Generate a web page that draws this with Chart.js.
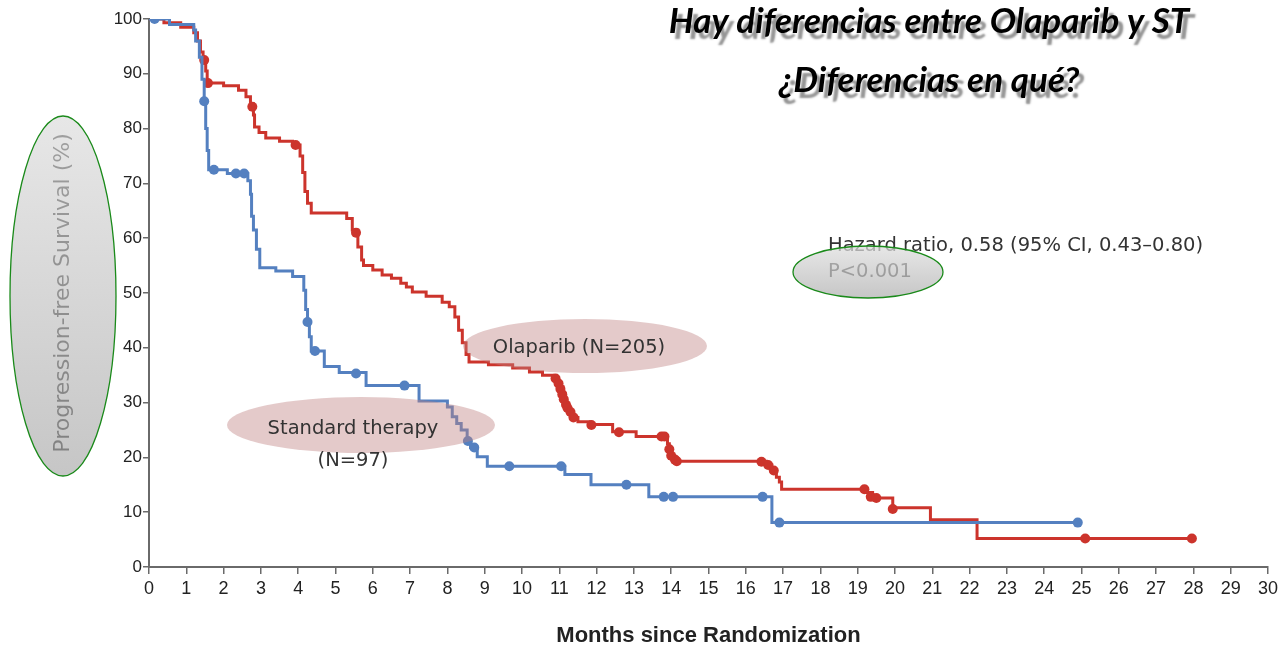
<!DOCTYPE html>
<html>
<head>
<meta charset="utf-8">
<script src="https://cdn.jsdelivr.net/npm/chart.js@4.4.1/dist/chart.umd.min.js"></script>
<style>
  html, body { margin: 0; padding: 0; background: #fff; }
  #wrap { width: 1282px; height: 646px; position: relative; }
</style>
</head>
<body>
<div id="wrap"><canvas id="km"></canvas></div>
<script>
// Kaplan-Meier steps: time (months) and survival (%) after each drop
const standardTimes = [0, 0.55, 1.2, 1.25, 1.35, 1.42, 1.48, 1.52, 1.56, 1.6, 2.1, 2.65, 2.72, 2.75, 2.8, 2.88, 2.97, 3.4, 3.85, 4.15, 4.2, 4.25, 4.3, 4.35, 4.7, 5.1, 5.82, 7.24, 8.0, 8.13, 8.25, 8.37, 8.53, 8.62, 8.8, 9.07, 11.15, 11.85, 13.4, 16.7, 24.9];
const standardSurv  = [100, 99, 98, 96, 93, 89, 85, 80, 76, 72.5, 71.8, 70.5, 68, 64, 61.5, 58, 54.6, 54, 53, 50.5, 47, 44.7, 42, 39.4, 36.6, 35.5, 33.1, 30.3, 29.2, 27.4, 26.2, 25, 22.8, 21.8, 20.1, 18.4, 16.9, 15, 12.8, 8.1, 8.1];
const standardCensorTimes = [0.15, 1.48, 1.74, 2.33, 2.55, 4.25, 4.45, 5.55, 6.85, 8.55, 8.72, 9.66, 11.05, 12.8, 13.8, 14.05, 16.45, 16.9, 24.9];
const standardCensorSurv  = [100, 85, 72.5, 71.8, 71.8, 44.7, 39.4, 35.3, 33.1, 23, 21.8, 18.4, 18.4, 15, 12.8, 12.8, 12.8, 8.1, 8.1];

const olaparibTimes = [0, 0.4, 0.85, 1.2, 1.3, 1.38, 1.45, 1.52, 1.56, 2.0, 2.4, 2.6, 2.72, 2.8, 2.83, 2.95, 3.13, 3.5, 3.85, 4.05, 4.12, 4.18, 4.25, 4.35, 5.3, 5.45, 5.6, 5.7, 5.75, 6.0, 6.25, 6.5, 6.75, 6.9, 7.06, 7.43, 7.86, 8.05, 8.2, 8.3, 8.4, 8.5, 8.58, 9.1, 9.75, 10.2, 10.55, 10.83, 10.95, 11.0, 11.05, 11.1, 11.15, 11.25, 11.35, 11.5, 11.8, 12.43, 13.06, 13.9, 13.95, 14.0, 14.05, 16.55, 16.7, 16.82, 16.9, 16.96, 19.23, 19.4, 19.94, 20.95, 22.2, 27.96];
const olaparibSurv  = [100, 99.3, 98.5, 97.5, 96, 94, 92.5, 90.5, 88.3, 87.8, 87, 85.8, 84.5, 82.5, 80.3, 79.3, 78.3, 77.7, 77, 75, 72, 68.5, 66.4, 64.6, 63.6, 61.5, 58.4, 56, 55, 54.2, 53.3, 52.7, 51.8, 51.1, 50.2, 49.4, 48.3, 47.5, 45.6, 43.2, 40.9, 38.8, 37.4, 36.9, 36.3, 35.6, 35, 34.5, 33.5, 32.5, 31.5, 30.5, 29.5, 28.5, 27.3, 26.5, 26, 24.7, 23.8, 22.5, 21, 20, 19.3, 18.6, 17.8, 16.4, 15.5, 14.2, 13.6, 12.6, 10.8, 8.6, 5.2, 5.2];
const olaparibCensorTimes = [1.48, 1.58, 2.77, 3.93, 5.55, 10.9, 10.98, 11.03, 11.08, 11.12, 11.18, 11.22, 11.3, 11.38, 11.86, 12.6, 13.74, 13.82, 13.95, 14.0, 14.1, 14.15, 16.42, 16.6, 16.75, 19.18, 19.35, 19.5, 19.94, 25.1, 27.96];
const olaparibCensorSurv  = [92.5, 88.3, 84, 77, 61, 34.4, 33.5, 32.5, 31.5, 30.6, 29.6, 29, 28.3, 27.3, 25.9, 24.6, 23.8, 23.8, 21.5, 20.3, 19.6, 19.3, 19.2, 18.6, 17.6, 14.2, 12.8, 12.6, 10.6, 5.2, 5.2];

const monthTicks = [0, 1, 2, 3, 4, 5, 6, 7, 8, 9, 10, 11, 12, 13, 14, 15, 16, 17, 18, 19, 20, 21, 22, 23, 24, 25, 26, 27, 28, 29, 30];
const survivalTicks = [0, 10, 20, 30, 40, 50, 60, 70, 80, 90, 100];

const titleLines = ['Hay diferencias entre Olaparib y ST', '¿Diferencias en qué?'];
const hazardText = 'Hazard ratio, 0.58 (95% CI, 0.43\u20130.80)';
const pText = 'P<0.001';
const olaparibLabel = 'Olaparib (N=205)';
const standardLabel = ['Standard therapy', '(N=97)'];
const xTitle = 'Months since Randomization';
const yTitle = 'Progression-free Survival (%)';

const RED = 'rgb(204,52,44)';
const BLUE = 'rgb(84,128,192)';
const AXIS = '#6a6a6a';
const TEXT_FONT = '"DejaVu Sans", sans-serif';

function pts(xs, ys) {
    return xs.map((x, i) => ({ x: x, y: ys[i] }));
}

function ellipsePath(ctx, cx, cy, rx, ry) {
    ctx.beginPath();
    ctx.ellipse(cx, cy, rx, ry, 0, 0, Math.PI * 2);
}

// grey highlight bubble with a green outline, drawn over whatever is below
function greyBubble(ctx, cx, cy, rx, ry) {
    const g = ctx.createLinearGradient(0, cy - ry, 0, cy + ry);
    g.addColorStop(0, 'rgba(222,222,222,0.72)');
    g.addColorStop(1, 'rgba(176,176,176,0.72)');
    ellipsePath(ctx, cx, cy, rx, ry);
    ctx.fillStyle = g;
    ctx.fill();
    ctx.lineWidth = 1.3;
    ctx.strokeStyle = '#1a8a1a';
    ctx.stroke();
}

const overlay = {
    id: 'overlay',
    afterDatasetsDraw(chart) {
        const ctx = chart.ctx;
        ctx.save();
        // pink label bubbles sit over the curves
        ctx.fillStyle = 'rgba(190,128,128,0.42)';
        ellipsePath(ctx, 585, 346, 122, 27);
        ctx.fill();
        ellipsePath(ctx, 361, 425, 134, 28);
        ctx.fill();

        ctx.fillStyle = '#333';
        ctx.font = '19.5px ' + TEXT_FONT;
        ctx.textAlign = 'center';
        ctx.textBaseline = 'middle';
        ctx.fillText(olaparibLabel, 579, 348);
        ctx.fillText(standardLabel[0], 353, 429);
        ctx.fillText(standardLabel[1], 353, 461);

        ctx.textAlign = 'left';
        ctx.fillText(hazardText, 828, 246);
        ctx.fillText(pText, 828, 272);
        ctx.restore();
    },
    afterDraw(chart) {
        const ctx = chart.ctx;
        ctx.save();
        greyBubble(ctx, 63, 296, 53, 180);
        greyBubble(ctx, 868, 272, 75, 26);

        // slide title with drop shadow
        ctx.font = 'italic bold 35px Lato, "Open Sans", sans-serif';
        ctx.textAlign = 'center';
        ctx.textBaseline = 'alphabetic';
        ctx.fillStyle = '#000';
        ctx.shadowColor = 'rgba(0,0,0,0.42)';
        ctx.shadowOffsetX = 5;
        ctx.shadowOffsetY = 6;
        ctx.shadowBlur = 2;
        ctx.fillText(titleLines[0], 929, 33);
        ctx.fillText(titleLines[1], 929, 92);
        ctx.restore();
    }
};

new Chart(document.getElementById('km'), {
    type: 'line',
    data: {
        datasets: [
            {
                label: 'Standard therapy',
                data: pts(standardTimes, standardSurv),
                borderColor: BLUE,
                borderWidth: 3,
                stepped: 'before',
                pointRadius: 0,
                fill: false
            },
            {
                type: 'scatter',
                label: 'Standard therapy censored',
                data: pts(standardCensorTimes, standardCensorSurv),
                backgroundColor: BLUE,
                borderWidth: 0,
                pointRadius: 5,
                showLine: false
            },
            {
                label: 'Olaparib',
                data: pts(olaparibTimes, olaparibSurv),
                borderColor: RED,
                borderWidth: 3,
                stepped: 'before',
                pointRadius: 0,
                fill: false
            },
            {
                type: 'scatter',
                label: 'Olaparib censored',
                data: pts(olaparibCensorTimes, olaparibCensorSurv),
                backgroundColor: RED,
                borderWidth: 0,
                pointRadius: 5,
                showLine: false
            }
        ]
    },
    options: {
        responsive: true,
        maintainAspectRatio: false,
        animation: false,
        devicePixelRatio: 1,
        layout: { padding: { top: 19, right: 14, bottom: 0, left: 0 } },
        plugins: {
            legend: { display: false },
            tooltip: { enabled: false }
        },
        scales: {
            x: {
                type: 'linear',
                min: 0,
                max: 30,
                afterBuildTicks: s => { s.ticks = monthTicks.map(v => ({ value: v })); },
                afterFit: s => { s.height = 79; },
                ticks: {
                    autoSkip: false,
                    maxRotation: 0,
                    padding: 4,
                    color: '#222',
                    font: { family: '"Liberation Sans Narrow", "Liberation Sans", sans-serif', size: 18 }
                },
                grid: { drawOnChartArea: false, drawTicks: true, tickLength: 7, color: AXIS, lineWidth: 1.5 },
                border: { display: true, color: AXIS, width: 2 },
                title: {
                    display: true,
                    text: xTitle,
                    color: '#222',
                    padding: { top: 0, bottom: -3 },
                    font: { family: '"Liberation Sans Narrow", "Liberation Sans", sans-serif', size: 22, weight: 'bold' }
                }
            },
            y: {
                min: 0,
                max: 100,
                afterBuildTicks: s => { s.ticks = survivalTicks.map(v => ({ value: v })); },
                afterFit: s => { s.width = 149; },
                ticks: {
                    padding: 1,
                    color: '#222',
                    font: { family: '"Liberation Sans Narrow", "Liberation Sans", sans-serif', size: 17 }
                },
                grid: { drawOnChartArea: false, drawTicks: true, tickLength: 6, color: AXIS, lineWidth: 1.5 },
                border: { display: true, color: AXIS, width: 2 },
                title: {
                    display: true,
                    text: yTitle,
                    color: '#000',
                    padding: { top: 50, bottom: 0 },
                    font: { family: TEXT_FONT, size: 22 }
                }
            }
        }
    },
    plugins: [overlay]
});
</script>
</body>
</html>
